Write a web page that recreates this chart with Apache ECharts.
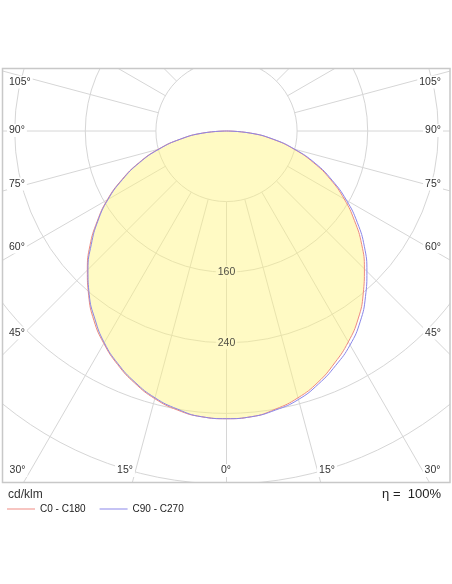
<!DOCTYPE html>
<html>
<head>
<meta charset="utf-8">
<script src="https://cdn.jsdelivr.net/npm/echarts@6/dist/echarts.min.js"></script>
<style>
    html, body { margin: 0; padding: 0; background: #fff; }
    #chart { width: 452px; height: 584px; }
</style>
</head>
<body>
<div id="chart"></div>
<script>
// gamma angles (deg from nadir) and intensities in cd/klm
const gammas = [0, 5, 10, 15, 20, 25, 30, 35, 40, 45, 50, 55, 60, 65, 70, 75, 80, 85, 90];
const c0   = [326, 325, 320, 313, 303, 290, 276, 260, 241, 221, 200, 177, 154, 130, 105, 79, 53, 27, 0];
const c180 = [326, 325, 321, 314, 304, 292, 278, 262, 243, 223, 202, 179, 156, 131, 106, 80, 53, 27, 0];
const c90  = [326, 325, 321, 315, 305, 293, 280, 264, 245, 225, 204, 181, 157, 132, 107, 80, 54, 27, 0];
const c270 = [326, 325, 320, 313, 303, 291, 277, 260, 242, 222, 200, 178, 155, 130, 105, 79, 53, 27, 0];

const radiusLabels = [160, 240];
const sideTickLabels = ['105°', '90°', '75°', '60°', '45°'];
const bottomTickLabels = ['30°', '15°', '0°', '15°', '30°'];

const FONT = '"Liberation Sans", Arial, Helvetica, sans-serif';
const CENTER = [226.5, 131];
const PX_PER_80 = 70.6;
const R_MAX = 480;
const R_PX = PX_PER_80 * R_MAX / 80;

const RED = '#ee8a82';
const BLUE = '#8a86e8';
const FILL = 'rgba(255, 245, 125, 0.45)';
const FILL_SOLID = '#fffac7';
const GRID = '#d6d6d6';

// left half uses angle gamma, right half uses 360 - gamma
function curve(left, right) {
    const l = gammas.map((g, i) => [left[i], g]).reverse();
    const r = gammas.map((g, i) => [right[i], 360 - g]).slice(1);
    return l.concat(r);
}

const chart = echarts.init(document.getElementById('chart'));

// label positions on the frame (pixels)
const sideY = [82, 130.5, 184, 247, 333];
const bottomX = [17.5, 125, 226, 327, 432.5];

function tickText(text, x, y, align) {
    return {
        type: 'text', z: 60, silent: true,
        style: {
            text: text, x: x, y: y, align: align, verticalAlign: 'middle',
            font: '10.5px ' + FONT, fill: '#333',
            backgroundColor: '#fff', padding: [1, 2]
        }
    };
}

const elements = [
    // masks outside the frame
    {type: 'rect', z: 50, silent: true, shape: {x: 0, y: 0, width: 452, height: 68.5}, style: {fill: '#fff'}},
    {type: 'rect', z: 50, silent: true, shape: {x: 0, y: 482.5, width: 452, height: 102}, style: {fill: '#fff'}},
    {type: 'rect', z: 50, silent: true, shape: {x: 0, y: 0, width: 2.5, height: 584}, style: {fill: '#fff'}},
    {type: 'rect', z: 50, silent: true, shape: {x: 450, y: 0, width: 2, height: 584}, style: {fill: '#fff'}},
    {type: 'rect', z: 55, silent: true, shape: {x: 2.5, y: 68.5, width: 447.5, height: 414},
        style: {fill: 'none', stroke: '#c8c8c8', lineWidth: 1.5}},
    {type: 'text', z: 60, silent: true,
        style: {text: 'cd/klm', x: 8, y: 494.5, verticalAlign: 'middle', font: '12px ' + FONT, fill: '#333'}},
    {type: 'text', z: 60, silent: true,
        style: {text: 'η =  100%', x: 441, y: 494.5, align: 'right', verticalAlign: 'middle', font: '13px ' + FONT, fill: '#222'}}
];
sideTickLabels.forEach((t, i) => {
    elements.push(tickText(t, 7, sideY[i], 'left'));
    elements.push(tickText(t, 443, sideY[i], 'right'));
});
bottomTickLabels.forEach((t, i) => {
    elements.push(tickText(t, bottomX[i], 470.5, 'center'));
});

const option = {
    animation: false,
    backgroundColor: '#fff',
    legend: {
        z: 70,
        left: 7, top: 504, padding: 0,
        icon: 'rect', itemWidth: 28, itemHeight: 1, itemGap: 14,
        textStyle: {fontSize: 10, color: '#222', fontFamily: FONT},
        data: ['C0 - C180', 'C90 - C270']
    },
    polar: [
        {center: CENTER, radius: [PX_PER_80, R_PX]},
        {center: CENTER, radius: [0, R_PX]}
    ],
    angleAxis: [
        {
            polarIndex: 0, type: 'value', min: 0, max: 360, interval: 15,
            startAngle: 270, clockwise: true,
            axisLine: {show: false}, axisTick: {show: false}, axisLabel: {show: false},
            splitLine: {show: true, lineStyle: {color: GRID, width: 1}}
        },
        {
            polarIndex: 1, type: 'value', min: 0, max: 360,
            startAngle: 270, clockwise: true,
            axisLine: {show: false}, axisTick: {show: false}, axisLabel: {show: false},
            splitLine: {show: false}
        }
    ],
    radiusAxis: [
        {
            polarIndex: 0, type: 'value', min: 80, max: R_MAX, interval: 80,
            axisLine: {show: false}, axisTick: {show: false}, axisLabel: {show: false},
            splitLine: {show: true, lineStyle: {color: GRID, width: 1}}
        },
        {
            polarIndex: 1, type: 'value', min: 0, max: R_MAX,
            axisLine: {show: false}, axisTick: {show: false}, axisLabel: {show: false},
            splitLine: {show: false}
        }
    ],
    series: [
        {
            name: 'C0 - C180', type: 'line', coordinateSystem: 'polar', polarIndex: 1,
            data: curve(c180, c0),
            symbol: 'none', smooth: true, z: 3,
            itemStyle: {color: RED},
            lineStyle: {color: RED, width: 1},
            areaStyle: {color: FILL, opacity: 1}
        },
        {
            name: 'C90 - C270', type: 'line', coordinateSystem: 'polar', polarIndex: 1,
            data: curve(c270, c90),
            symbol: 'none', smooth: true, z: 4,
            itemStyle: {color: BLUE},
            lineStyle: {color: BLUE, width: 1}
        },
        {
            type: 'scatter', coordinateSystem: 'polar', polarIndex: 1,
            data: radiusLabels.map(v => [v, 0]),
            symbolSize: 0, z: 5, silent: true,
            label: {
                show: true, position: 'inside',
                formatter: p => String(p.value[0]),
                color: '#222', fontSize: 10.5, fontFamily: FONT,
                backgroundColor: FILL_SOLID, padding: [1, 2]
            }
        }
    ],
    graphic: {elements: elements}
};

chart.setOption(option);
</script>
</body>
</html>
